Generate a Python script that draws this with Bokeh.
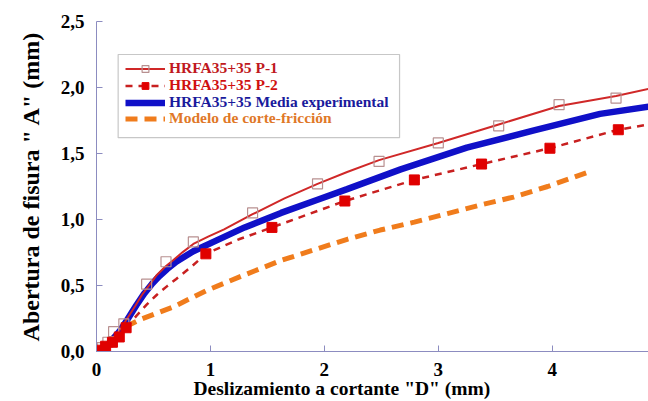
from bokeh.plotting import figure
from bokeh.models import Range1d, FixedTicker, Legend, LegendItem, BoxAnnotation, Title
from bokeh.core.properties import value
from bokeh.embed import file_html
from bokeh.resources import INLINE

# ---- data ----
x_ticks = [0, 1, 2, 3, 4]
x_tick_labels = ["0", "1", "2", "3", "4"]
y_ticks = [0.0, 0.5, 1.0, 1.5, 2.0, 2.5]
y_tick_labels = ["0,0", "0,5", "1,0", "1,5", "2,0", "2,5"]

x_title = 'Deslizamiento a cortante "D" (mm)'
y_title = 'Abertura de fisura " A" (mm)'

series_names = ["HRFA35+35 P-1", "HRFA35+35 P-2",
                "HRFA35+35 Media experimental", "Modelo de corte-fricción"]

# P-1 measured points (hollow squares)
p1_mx = [0.0, 0.05, 0.10, 0.15, 0.24, 0.44, 0.61, 0.85, 1.37, 1.94, 2.48, 3.00, 3.53, 4.06, 4.56]
p1_my = [0.0, 0.03, 0.07, 0.15, 0.21, 0.51, 0.68, 0.83, 1.05, 1.27, 1.44, 1.58, 1.71, 1.87, 1.92]
# P-1 fitted curve
p1_lx = [0.0, 0.10, 0.20, 0.27, 0.34, 0.40, 0.47, 0.53, 0.60, 0.67, 0.76, 0.85, 0.98, 1.12, 1.37, 1.65, 1.94, 2.20, 2.48, 3.00, 3.53, 4.06, 4.56, 4.85]
p1_ly = [0.0, 0.06, 0.16, 0.25, 0.345, 0.43, 0.51, 0.58, 0.64, 0.69, 0.755, 0.815, 0.87, 0.925, 1.04, 1.16, 1.27, 1.36, 1.45, 1.58, 1.72, 1.86, 1.935, 1.99]

# P-2 measured points (filled squares)
p2_mx = [0.0, 0.02, 0.08, 0.14, 0.20, 0.26, 0.96, 1.54, 2.18, 2.79, 3.38, 3.98, 4.58]
p2_my = [0.0, 0.01, 0.04, 0.07, 0.11, 0.18, 0.74, 0.94, 1.14, 1.30, 1.42, 1.54, 1.68]
# P-2 curve
p2_lx = [0.0, 0.08, 0.14, 0.20, 0.26, 0.35, 0.44, 0.53, 0.62, 0.70, 0.83, 0.96, 1.25, 1.54, 2.18, 2.79, 3.38, 3.98, 4.58, 4.85]
p2_ly = [0.0, 0.04, 0.07, 0.11, 0.18, 0.27, 0.355, 0.43, 0.495, 0.55, 0.64, 0.74, 0.85, 0.94, 1.14, 1.30, 1.42, 1.54, 1.68, 1.72]

# Experimental mean
media_x = [0.0, 0.10, 0.20, 0.27, 0.35, 0.42, 0.49, 0.55, 0.62, 0.70, 0.85, 1.05, 1.30, 1.62, 1.94, 2.20, 2.67, 3.25, 3.84, 4.42, 4.85]
media_y = [0.0, 0.05, 0.15, 0.24, 0.35, 0.44, 0.515, 0.57, 0.625, 0.68, 0.76, 0.84, 0.94, 1.05, 1.15, 1.23, 1.38, 1.545, 1.675, 1.80, 1.855]

# Shear-friction model
model_x = [0.0, 0.26, 0.39, 0.68, 0.96, 1.27, 1.62, 1.91, 2.20, 2.49, 2.79, 3.08, 3.37, 3.66, 3.96, 4.35]
model_y = [0.0, 0.19, 0.245, 0.34, 0.46, 0.57, 0.69, 0.77, 0.85, 0.92, 0.98, 1.045, 1.11, 1.17, 1.25, 1.37]

# ---- figure ----
p = figure(width=648, height=401, output_backend="svg", toolbar_location=None,
           x_range=Range1d(0, 4.845), y_range=Range1d(0, 2.5),
           min_border_left=96, min_border_right=0, min_border_top=21, min_border_bottom=50)
p.xgrid.visible = False
p.ygrid.visible = False
p.outline_line_color = None
p.background_fill_color = "white"
p.border_fill_color = "white"

axis_col = "#8c8cc0"
for ax in (p.xaxis[0], p.yaxis[0]):
    ax.axis_line_color = axis_col
    ax.axis_line_width = 1
    ax.major_tick_line_color = axis_col
    ax.major_tick_in = 6
    ax.major_tick_out = 0
    ax.minor_tick_line_color = None
    ax.major_label_text_font = "Liberation Serif"
    ax.major_label_text_font_style = "bold"
    ax.major_label_text_font_size = "19px"
    ax.major_label_text_color = "black"
    ax.axis_label_text_font = "Liberation Serif"
    ax.axis_label_text_font_style = "bold"
    ax.axis_label_text_color = "black"

p.xaxis.ticker = FixedTicker(ticks=x_ticks)
p.xaxis.major_label_overrides = {t: l for t, l in zip(x_ticks, x_tick_labels)}
p.yaxis.ticker = FixedTicker(ticks=y_ticks)
p.yaxis.major_label_overrides = {t: l for t, l in zip(y_ticks, y_tick_labels)}

p.xaxis.major_label_standoff = 11
p.yaxis.axis_label = y_title
p.yaxis.axis_label_text_font_size = "24px"
p.yaxis.major_label_standoff = 12
p.yaxis.axis_label_standoff = 14

# x-axis title: placed as a bottom title, shifted left of the frame centre as in the original
xt = Title(text=x_title, align="left", offset=97, standoff=-6,
           text_font="Liberation Serif", text_font_style="bold", text_font_size="19.5px",
           text_color="black")
p.add_layout(xt, "below")

# ---- glyphs ----
r_model = p.line(model_x, model_y, line_color="#f07c1c", line_width=5, line_dash="12 7")
r_p2l = p.line(p2_lx, p2_ly, line_color="#c82020", line_width=2.5, line_dash="7 6")
r_media = p.line(media_x, media_y, line_color="#1010c8", line_width=6.5)
r_p1l = p.line(p1_lx, p1_ly, line_color="#d02828", line_width=2)
r_p1m = p.scatter(p1_mx, p1_my, marker="square", size=10, fill_color=None,
                  line_color="#b89090", line_width=1.2)
r_p2m = p.scatter(p2_mx, p2_my, marker="square", size=10, fill_color="#e00000",
                  line_color="#e00000")

# ---- legend ----
box = BoxAnnotation(left=0.19, right=2.66, bottom=1.62, top=2.25,
                    fill_color="white", fill_alpha=1.0,
                    line_color="#444444", line_width=1.2)
p.add_layout(box)

legend_specs = [
    (series_names[0], [r_p1l, r_p1m], "#c01820", 274),
    (series_names[1], [r_p2l, r_p2m], "#d01010", 257),
    (series_names[2], [r_media], "#1a1a9c", 240),
    (series_names[3], [r_model], "#e07828", 224),
]
for lab, rs, col, vy in legend_specs:
    leg = Legend(items=[LegendItem(label=value(lab), renderers=rs)],
                 location=(29, vy),
                 label_text_font="Liberation Serif", label_text_font_style="bold",
                 label_text_font_size="15.5px", label_text_color=col,
                 glyph_width=40, glyph_height=17, label_height=17,
                 label_standoff=4, padding=0, margin=0, spacing=0,
                 border_line_color=None, background_fill_alpha=0)
    p.add_layout(leg)

open("out.html", "w").write(file_html(p, INLINE))
